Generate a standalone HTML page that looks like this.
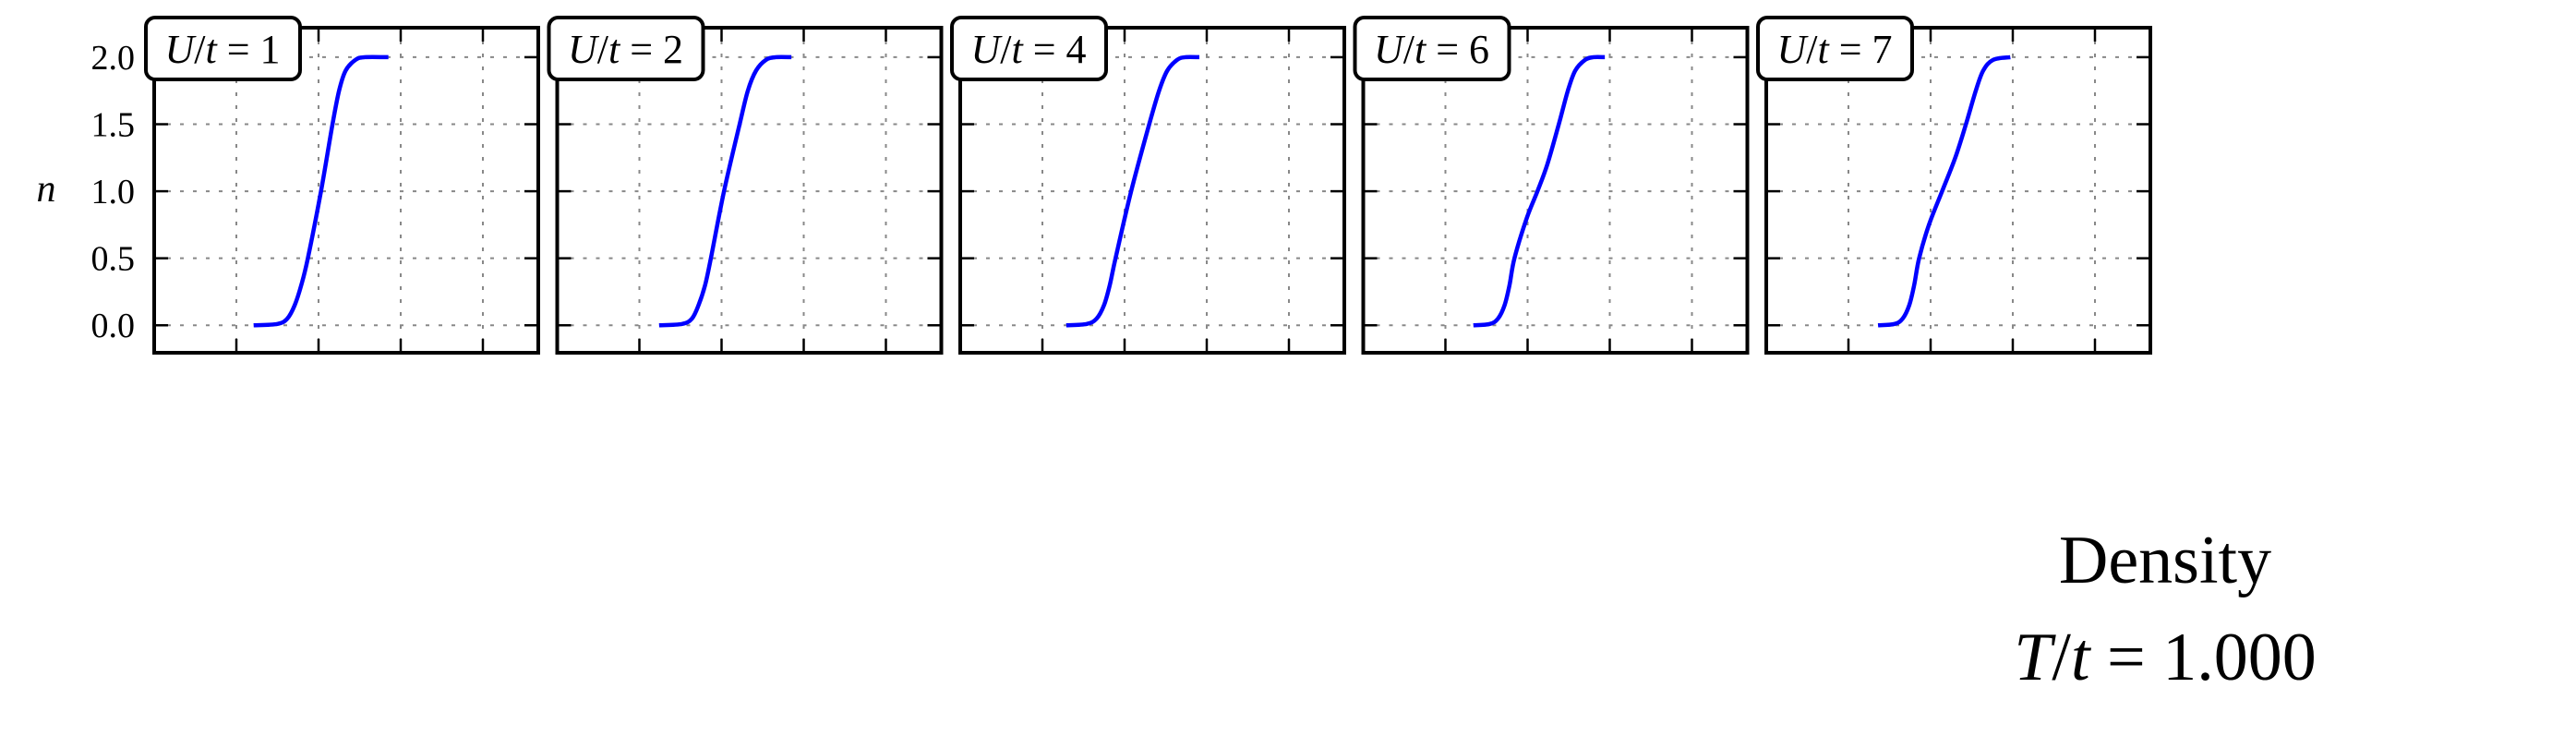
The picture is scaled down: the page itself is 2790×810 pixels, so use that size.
<!DOCTYPE html>
<html><head><meta charset="utf-8">
<style>
html,body{margin:0;padding:0;background:#fff;}
svg{display:block;}
text{font-family:"Liberation Serif",serif;fill:#000;}
</style></head>
<body>
<svg id="chart" width="2790" height="810" viewBox="0 0 2790 810" xmlns="http://www.w3.org/2000/svg">
<text x="50" y="218" font-size="42" font-style="italic" text-anchor="middle">n</text>
<text x="2345" y="631" font-size="74" text-anchor="middle">Density</text>
<text x="2345" y="736" font-size="74" text-anchor="middle"><tspan font-style="italic">T</tspan>/<tspan font-style="italic">t</tspan> = 1.000</text>
</svg>
<script>
const panelLabels = ["1", "2", "4", "6", "7"];
const yTicks = [0.0, 0.5, 1.0, 1.5, 2.0];
const yTickLabels = ["0.0", "0.5", "1.0", "1.5", "2.0"];
const xTicks = [1, 2, 3, 4];
const xs1 = [1.21,1.50,1.62,1.71,1.79,1.87,2.03,2.17,2.25,2.33,2.45,2.56,2.85];
const ns1 = [0,0.01,0.05,0.15,0.3,0.5,1.0,1.5,1.75,1.9,1.98,2.0,2.0];
const xs2 = [1.24,1.52,1.64,1.72,1.80,1.87,2.03,2.22,2.32,2.42,2.54,2.66,2.85];
const ns2 = [0,0.01,0.05,0.15,0.3,0.5,1.0,1.5,1.75,1.9,1.98,2.0,2.0];
const xs3 = [1.29,1.54,1.66,1.75,1.82,1.89,2.08,2.30,2.42,2.52,2.64,2.74,2.91];
const ns3 = [0,0.01,0.05,0.15,0.3,0.5,1.0,1.5,1.75,1.9,1.98,2.0,2.0];
const xs4 = [1.34,1.54,1.64,1.72,1.78,1.84,1.99,2.12,2.24,2.38,2.49,2.58,2.70,2.80,2.94];
const ns4 = [0,0.01,0.05,0.15,0.3,0.5,0.8,1.0,1.2,1.5,1.75,1.9,1.98,2.0,2.0];
const xs5 = [1.36,1.56,1.66,1.74,1.80,1.86,1.98,2.14,2.30,2.43,2.55,2.64,2.76,2.97];
const ns5 = [0,0.01,0.05,0.15,0.3,0.5,0.75,1.0,1.25,1.5,1.75,1.9,1.98,2.0];
const seriesX = [xs1, xs2, xs3, xs4, xs5];
const seriesN = [ns1, ns2, ns3, ns4, ns5];

const NS = "http://www.w3.org/2000/svg";
const svg = document.getElementById("chart");
const PANEL_LEFT = 167, PANEL_STEP = 436.5, PANEL_W = 416, TOP = 30, BOTTOM = 382;
const UNIT = 89, YMIN = -0.205, YMAX = 2.22;
function mk(tag, attrs, parent) {
  const e = document.createElementNS(NS, tag);
  for (const k in attrs) e.setAttribute(k, attrs[k]);
  (parent || svg).appendChild(e);
  return e;
}
function yPos(v) { return BOTTOM - (v - YMIN) / (YMAX - YMIN) * (BOTTOM - TOP); }

for (let p = 0; p < panelLabels.length; p++) {
  const L = PANEL_LEFT + p * PANEL_STEP, R = L + PANEL_W;
  const xPos = v => L + v * UNIT;
  const g = mk("g", {});
  
  
  yTicks.forEach(v => {
    const gl = mk("line", {x1:L, x2:R, y1:yPos(v), y2:yPos(v), stroke:"#888", "stroke-width":2, "stroke-dasharray":"4,10"}, g);
    
    
    mk("line", {x1:L, x2:L+15, y1:yPos(v), y2:yPos(v), stroke:"#000", "stroke-width":2.5}, g);
    mk("line", {x1:R-15, x2:R, y1:yPos(v), y2:yPos(v), stroke:"#000", "stroke-width":2.5}, g);
  });
  xTicks.forEach(v => {
    const gl = mk("line", {x1:xPos(v), x2:xPos(v), y1:TOP, y2:BOTTOM, stroke:"#888", "stroke-width":2, "stroke-dasharray":"4,10"}, g);
    
    
    mk("line", {x1:xPos(v), x2:xPos(v), y1:BOTTOM-15, y2:BOTTOM, stroke:"#000", "stroke-width":2.5}, g);
    mk("line", {x1:xPos(v), x2:xPos(v), y1:TOP, y2:TOP+15, stroke:"#000", "stroke-width":2.5}, g);
  });
  const X = seriesX[p], N = seriesN[p];
  const pts = X.map((x, i) => [xPos(x), yPos(N[i])]);
  let d = "M" + pts[0][0] + "," + pts[0][1];
  for (let i = 0; i < pts.length - 1; i++) {
    const p0 = pts[Math.max(0, i-1)], p1 = pts[i], p2 = pts[i+1], p3 = pts[Math.min(pts.length-1, i+2)];
    const c1x = p1[0] + (p2[0]-p0[0])/6, c1y = p1[1] + (p2[1]-p0[1])/6;
    const c2x = p2[0] - (p3[0]-p1[0])/6, c2y = p2[1] - (p3[1]-p1[1])/6;
    d += " C" + c1x + "," + c1y + " " + c2x + "," + c2y + " " + p2[0] + "," + p2[1];
  }
  const line = mk("path", {d:d, fill:"none", stroke:"#0000ff", "stroke-width":4.5, "stroke-linejoin":"round"}, g);
  
  
  const fr = mk("rect", {x:L, y:TOP, width:PANEL_W, height:BOTTOM-TOP, fill:"none", stroke:"#000", "stroke-width":4}, g);
  
  
  if (p === 0) {
    yTicks.forEach((v, i) => {
      const t = mk("text", {x:146, y:yPos(v)+13, "font-size":38, "text-anchor":"end"}, g);
      t.textContent = yTickLabels[i];
      
      
    });
  }
  const bx = mk("rect", {x:L-9, y:19, width:167, height:67, rx:10, ry:10, fill:"#fff", stroke:"#000", "stroke-width":4}, g);
  
  
  const lt = mk("text", {x:L+74, y:68, "font-size":44, "text-anchor":"middle"}, g);
  lt.innerHTML = '<tspan font-style="italic">U</tspan>/<tspan font-style="italic">t</tspan> = ' + panelLabels[p];
  
  
}
</script>
</body></html>
